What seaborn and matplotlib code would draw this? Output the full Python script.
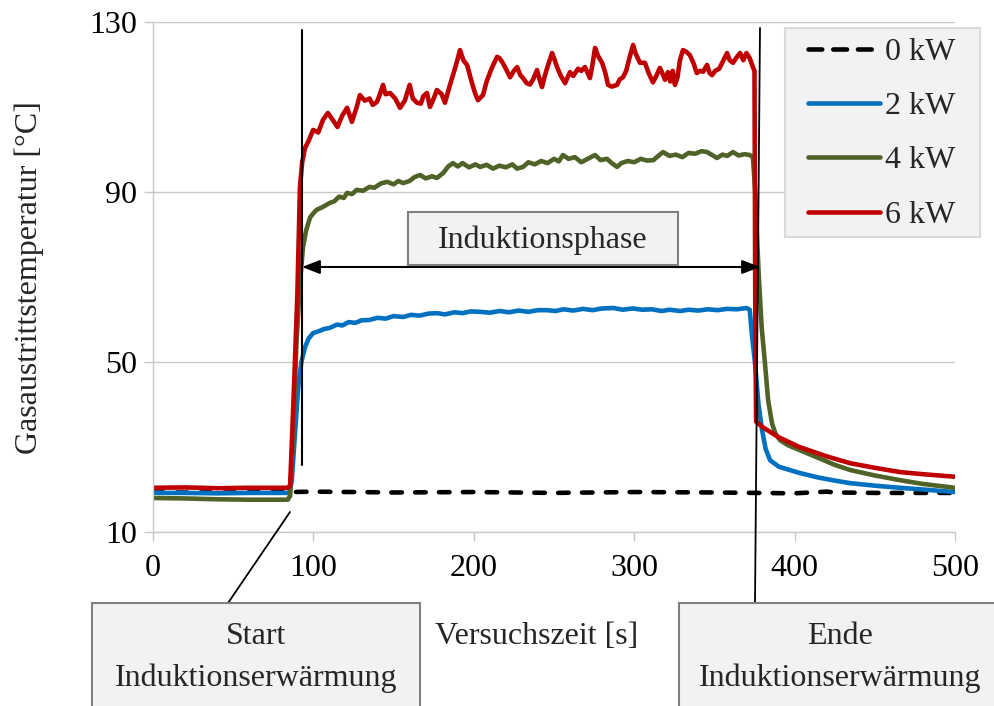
import numpy as np
import pandas as pd
import matplotlib
matplotlib.use("Agg")
import matplotlib.pyplot as plt
from matplotlib.lines import Line2D
from matplotlib.patches import Rectangle
import seaborn as sns

# ---------------- data ----------------
series_labels = ["0 kW", "2 kW", "4 kW", "6 kW"]

t_0kw = [0, 50, 85, 100, 150, 200, 250, 300, 350, 400, 420, 425, 450, 500]
v_0kw = [19.3, 19.3, 19.4, 19.5, 19.3, 19.4, 19.2, 19.4, 19.3, 19.1, 19.5, 19.3, 19.2, 19.2]

t_2kw = [0, 20, 40, 60, 85, 86.5, 88.5, 90.5, 92.5, 94.8, 97, 99.8, 103, 107, 110, 114.7,
         118, 122, 126, 130, 135, 140, 145, 150, 156, 161, 166, 172, 177, 182, 188, 193,
         198, 204, 210, 216, 222, 228, 234, 240, 245.6, 251, 256, 262, 268, 274, 280, 287,
         293, 299, 305, 311, 317, 322, 328.6, 334, 340, 346, 352, 358, 364, 370, 372,
         373.5, 375.3, 377.5, 379.7, 382, 384.7, 390, 395, 403, 415, 425, 434.5, 450,
         465.7, 480, 500]
v_2kw = [19.2, 19.2, 19.1, 19.2, 19.2, 22, 33, 44, 50, 53.5, 55.5, 56.8, 57.2, 57.8, 58, 58.8,
         58.6, 59.4, 59.2, 59.8, 59.9, 60.4, 60.2, 60.8, 60.6, 61.1, 60.9, 61.4, 61.5, 61.2, 61.7, 61.5,
         61.9, 61.8, 61.6, 62.0, 61.7, 62.1, 61.8, 62.2, 62.2, 62.0, 62.4, 62.1, 62.5, 62.2, 62.6, 62.7,
         62.3, 62.6, 62.3, 62.4, 62.0, 62.3, 62.0, 62.3, 62.1, 62.4, 62.2, 62.5, 62.4, 62.7, 62.3,
         56, 49.8, 40, 34, 29.5, 26.9, 25.4, 24.8, 23.9, 22.8, 22.1, 21.5, 20.9,
         20.4, 20.0, 19.4]

t_4kw = [0, 20, 40, 60, 84, 85.5, 87.5, 89.5, 91.5, 93.5, 95.5, 97.9, 100, 102, 106, 110, 113,
         116, 119, 121, 124, 127, 131, 135, 138, 142, 146, 150, 153, 156, 160, 163, 166.5,
         170, 174, 177, 181, 184, 187, 190, 193, 197, 201, 204, 208, 212, 216, 220, 224, 227,
         230.7, 234, 238, 242, 246, 250, 253, 255.6, 259, 263, 267, 271, 275.6, 279, 283, 286,
         289.3, 292, 296, 300, 304, 308, 312, 315, 318, 322, 326, 330, 334, 338, 342, 345.4,
         349, 351.6, 355, 358, 361.6, 365, 369, 372, 374, 375.5, 376.5, 377.8, 379.5, 381.5,
         383.5, 385.9, 388, 390.9, 396, 403, 415, 425, 434.5, 450, 465.7, 480, 500]
v_4kw = [18.0, 17.9, 17.7, 17.6, 17.6, 18.5, 35, 55, 68, 77, 81, 84, 85, 85.8, 86.5, 87.4, 87.8,
         88.9, 88.6, 89.8, 89.5, 90.5, 90.3, 91.2, 91.0, 92.0, 92.4, 91.8, 92.6, 92.1, 92.6, 93.5, 94,
         93.2, 93.7, 93.3, 94.5, 96, 96.8, 96.0, 96.8, 95.8, 96.5, 95.9, 96.4, 95.5, 96.2, 95.8, 96.5, 95.5,
         95.9, 97.0, 96.5, 97.3, 96.8, 97.8, 97.2, 98.7, 97.8, 98.2, 97.0, 97.8, 98.7, 97.5, 97.8, 96.8,
         95.9, 96.8, 97.3, 97.0, 97.8, 97.4, 97.5, 98.5, 99.4, 98.5, 98.8, 98.2, 99.2, 99.0, 99.6, 99.4,
         98.6, 98.0, 98.8, 98.5, 99.4, 98.6, 98.9, 98.7, 98.2, 90, 80, 69.3, 58, 49.8,
         41, 35.6, 33.2, 31.6, 30.4, 29.3, 27.4, 25.8, 24.6, 23.3, 22.2, 21.3, 20.4]

t_6kw = [0, 20, 40, 60, 84, 85.5, 88, 90, 91.6, 93, 94.8, 97, 99.8, 103, 106, 109, 112, 115,
         118, 121, 124, 127, 129, 132, 135, 137, 139.6, 141, 143.4, 145, 147.8, 151, 154, 157,
         160, 162, 164.6, 167, 168.5, 170.8, 172.7, 175, 177, 180, 182, 185, 187, 189, 191.4,
         193.5, 195.8, 198.9, 201, 202.6, 205.7, 208, 211, 214.5, 216, 218, 220, 222.6, 225,
         227, 229, 230.7, 233, 235, 237, 239.4, 241, 242.5, 244, 246, 248.8, 250, 251.9, 254,
         256.9, 258.5, 260, 262, 265, 267, 269.3, 271, 272.4, 274, 275.6, 277.5, 280, 282,
         283.7, 286, 289.3, 291, 293, 295, 297, 299.3, 301, 303.6, 306.7, 309, 311.7, 314, 316,
         317.5, 319.2, 321, 322.5, 324, 325.4, 327, 328.5, 330.4, 332.5, 334.7, 337, 339, 341,
         343, 345.4, 347, 348.5, 350.5, 353, 355, 357.9, 359.5, 361.6, 363.5, 366, 368, 370,
         372, 374, 375, 375.5, 376, 380, 390, 403, 420, 434.5, 450, 465.7, 480, 500]
v_6kw = [20.4, 20.5, 20.3, 20.4, 20.4, 21, 45, 66, 91, 97, 100.4, 102, 104.6, 104, 107, 108.6, 107, 105.3,
         108, 109.8, 106.5, 110, 112.8, 111.5, 112, 110.5, 111.2, 112.5, 115.2, 113, 113.3, 112, 109.8, 111.5,
         115.2, 112, 111, 110.8, 112.5, 113.3, 110, 112, 114, 113, 111, 115, 117.5, 120, 123.4,
         121, 119.9, 115.6, 113, 111.6, 112.8, 116, 119, 121.8, 121.5, 120.4, 119, 117, 118.5,
         119.4, 117.5, 116.8, 115.6, 115.3, 116.5, 118.7, 116.5, 114.7, 117, 119.5, 122.7, 121.5, 119.4, 117.5,
         115.6, 117, 118.2, 117.3, 119, 118.5, 119.4, 118, 116.8, 120, 123.9, 122, 120.4, 118,
         115.2, 114.8, 115.2, 116.5, 117, 118.5, 121.5, 124.6, 122.5, 120.4, 120.4, 118, 115.8, 117.5, 119.2,
         118, 116.4, 118.2, 116, 118.5, 115.2, 117, 121, 123.4, 123, 122.2, 120.3, 118, 118.5,
         118.3, 119.9, 118, 117.5, 118.5, 119, 120.5, 122.7, 121, 120.4, 121.5, 122.7, 121, 122.7,
         121.5, 119.4, 118.5, 60, 36, 34.7, 32.3, 30, 27.8, 26.2, 25.1, 24.1, 23.6, 23.0]

x_ticks = [0, 100, 200, 300, 400, 500]
y_ticks = [10, 50, 90, 130]

colors = {"0 kW": "#000000", "2 kW": "#0070C0", "4 kW": "#4F6228", "6 kW": "#C00000"}

df = pd.concat([
    pd.DataFrame({"t": t_0kw, "temp": v_0kw, "Leistung": "0 kW"}),
    pd.DataFrame({"t": t_2kw, "temp": v_2kw, "Leistung": "2 kW"}),
    pd.DataFrame({"t": t_4kw, "temp": v_4kw, "Leistung": "4 kW"}),
    pd.DataFrame({"t": t_6kw, "temp": v_6kw, "Leistung": "6 kW"}),
], ignore_index=True)

# ---------------- styling ----------------
sns.set_theme(style="white")
plt.rcParams["font.family"] = ["Liberation Serif", "DejaVu Serif"]
FS = 23
W, H = 995, 706

fig = plt.figure(figsize=(W / 100, H / 100), dpi=100)
ax = fig.add_axes([153 / W, 1 - 532 / H, 802 / W, 510 / H])

sns.lineplot(data=df, x="t", y="temp", hue="Leistung", style="Leistung",
             hue_order=series_labels, style_order=series_labels,
             palette=colors,
             dashes={"0 kW": (2.3, 2.9), "2 kW": "", "4 kW": "", "6 kW": ""},
             estimator=None, sort=False, linewidth=3.3, legend=False, ax=ax)
for ln in ax.get_lines():
    ln.set_dash_capstyle("round")
    ln.set_solid_capstyle("round")
    ln.set_solid_joinstyle("round")

ax.set_xlim(0, 500)
ax.set_ylim(10, 130)
ax.set_xticks(x_ticks)
ax.set_yticks(y_ticks)
ax.grid(axis="y", color="#c8c8c8", lw=1)
ax.grid(axis="x", visible=False)
for s in ["top", "right"]:
    ax.spines[s].set_visible(False)
for s in ["left", "bottom"]:
    ax.spines[s].set_color("#c8c8c8")
    ax.spines[s].set_linewidth(1)
ax.tick_params(axis="both", which="major", labelsize=FS, colors="#c8c8c8",
               labelcolor="black", length=6.5, width=1, direction="out")
ax.tick_params(axis="y", pad=5)
ax.tick_params(axis="x", pad=9)
ax.tick_params(left=True, bottom=True)

ax.set_ylabel("Gasaustrittstemperatur [°C]", fontsize=FS)
ax.yaxis.set_label_coords((29 - 153) / 802, (532 - 278) / 510)
ax.yaxis.label.set_verticalalignment("center")
ax.set_xlabel("Versuchszeit [s]", fontsize=FS)
ax.xaxis.set_label_coords((537 - 153) / 802, (532 - 636) / 510)
ax.xaxis.label.set_verticalalignment("center")

# ---------------- annotations ----------------
def fx(px):
    return px / W

def fy(py):
    return 1 - py / H

fig.add_artist(Line2D([fx(302), fx(302)], [fy(30), fy(465)], color="black", lw=1.5, zorder=6))
fig.add_artist(Line2D([fx(760), fx(755)], [fy(28), fy(603)], color="black", lw=1.3, zorder=6))
fig.add_artist(Line2D([fx(290), fx(228)], [fy(512), fy(603)], color="black", lw=1.3, zorder=6))

ax.annotate("", xy=(fx(302), fy(267)), xytext=(fx(760), fy(267)),
            xycoords="figure fraction", textcoords="figure fraction",
            arrowprops=dict(arrowstyle="<|-|>,head_length=0.9,head_width=0.35",
                            color="black", lw=1.5, shrinkA=0, shrinkB=0),
            zorder=7)

def box(x0, y0, x1, y1, ec="#808080", zorder=6):
    fig.add_artist(Rectangle((fx(x0), fy(y1)), fx(x1) - fx(x0), fy(y0) - fy(y1),
                             facecolor="#f2f2f2", edgecolor=ec, lw=1.5,
                             zorder=zorder, clip_on=False))

box(408, 212, 678, 265)
fig.text(fx(543), fy(240), "Induktionsphase", ha="center", va="center", fontsize=FS, zorder=8)

box(92, 603, 420, 720)
fig.text(fx(256), fy(636), "Start", ha="center", va="center", fontsize=FS, zorder=8)
fig.text(fx(256), fy(678), "Induktionserwärmung", ha="center", va="center", fontsize=FS, zorder=8)

box(679, 603, 1010, 720)
fig.text(fx(840), fy(636), "Ende", ha="center", va="center", fontsize=FS, zorder=8)
fig.text(fx(840), fy(678), "Induktionserwärmung", ha="center", va="center", fontsize=FS, zorder=8)

# ---------------- legend ----------------
box(785, 28, 980, 237, ec="#d9d9d9", zorder=8)
handles = []
for lab in series_labels:
    if lab == "0 kW":
        h = Line2D([], [], color=colors[lab], lw=3.3, linestyle=(0, (3.0, 2.4)),
                   dash_capstyle="round")
    else:
        h = Line2D([], [], color=colors[lab], lw=3.3, solid_capstyle="round")
    handles.append(h)

leg = fig.legend(handles, series_labels, loc="upper left",
                 bbox_to_anchor=(fx(808), fy(37.5)),
                 bbox_transform=fig.transFigure, borderaxespad=0,
                 fontsize=FS, handlelength=2.25, handletextpad=0.15,
                 labelspacing=0.78, borderpad=0, frameon=False)
leg.set_zorder(9)

fig.savefig("out.png", dpi=100)
